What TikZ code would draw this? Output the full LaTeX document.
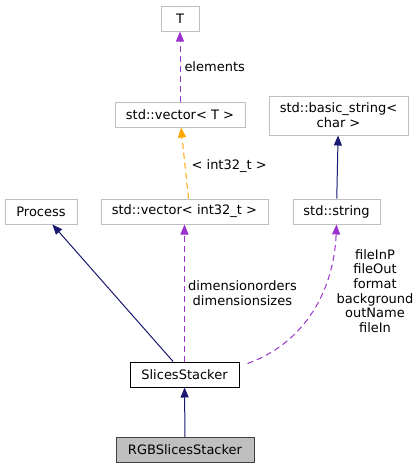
\documentclass[tikz,border=0pt]{standalone}
\usepackage{fontspec}
\setmainfont{DejaVu Sans}
\usetikzlibrary{arrows.meta}
\definecolor{boxgray}{HTML}{BFBFBF}
\definecolor{navyedge}{HTML}{191970}
\definecolor{purpedge}{HTML}{9A32CD}
\definecolor{orangeedge}{HTML}{FFA500}
\tikzset{
  cls/.style={draw=boxgray, fill=white, line width=1, inner sep=0, minimum height=25, align=center, font=\fontsize{13}{15}\selectfont},
  curcls/.style={cls, draw=black},
  selcls/.style={cls, draw=black!75, fill=boxgray},
  inh/.style={navyedge, line width=1, -{Triangle[length=10,width=8]}},
  usage/.style={purpedge, line width=1, dash pattern=on 6 off 4, -{Triangle[length=10,width=8]}},
  tmpl/.style={orangeedge, line width=1, dash pattern=on 6 off 4, -{Triangle[length=10,width=8]}},
  lbl/.style={text=black, inner sep=0, align=center, font=\fontsize{13}{14.7}\selectfont}
}
\begin{document}
\begin{tikzpicture}[x=1pt, y=-1pt]
 \useasboundingbox (0,0) rectangle (420,469);

 \node[cls, minimum width=38] (t) at (180,18.5) {T};
 \node[cls, minimum width=130] (vect) at (180,114.5) {std::vector< T >};
 \node[cls, minimum width=139, minimum height=39] (bstr) at (338.5,115.5) {std::basic\_string<\\ char >};
 \node[cls, minimum width=72] (process) at (41,211.5) {Process};
 \node[cls, minimum width=167] (vecint) at (184.5,211.5) {std::vector< int32\_t >};
 \node[cls, minimum width=87] (str) at (336.5,211.5) {std::string};
 \node[curcls, minimum width=109] (slices) at (184.5,374.5) {SlicesStacker};
 \node[selcls, minimum width=138] (rgb) at (185,450) {RGBSlicesStacker};

 \draw[usage] (vect) -- (t) node[lbl, pos=0.5, anchor=west, xshift=4] (lelem) {elements};
 \draw[tmpl] ([xshift=4]vecint.north) -- ([xshift=1]vect.south) node[lbl, pos=0.45, anchor=west, xshift=6] (ltmpl) {< int32\_t >};
 \draw[inh] (str) -- (bstr);
 \draw[inh] (slices) -- (process);
 \draw[usage] (slices) -- (vecint) node[lbl, pos=0.5, anchor=west, xshift=3] (ldim) {dimensionorders\\dimensionsizes};
 \draw[usage] ([xshift=8,yshift=-2]slices.north east) .. controls (305,343) and (334,290) .. (str.south);
 \node[lbl] (lfile) at (375,291) {fileInP\\fileOut\\format\\background\\outName\\fileIn};
 \draw[inh] (rgb) -- (slices);
\end{tikzpicture}
\end{document}
